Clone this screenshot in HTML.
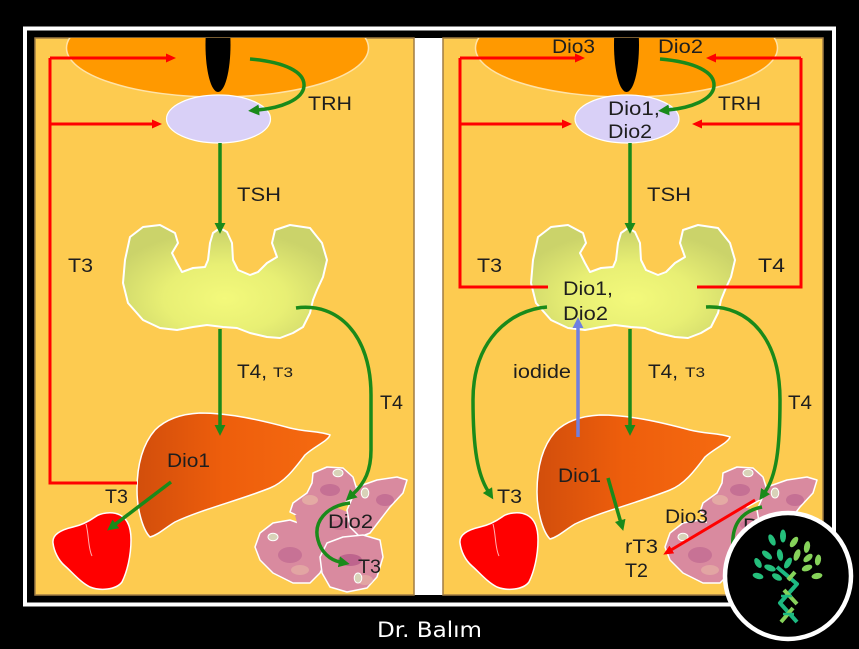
<!DOCTYPE html>
<html><head><meta charset="utf-8">
<style>html,body{margin:0;padding:0;background:#000;}svg{display:block}</style>
</head>
<body>
<svg width="859" height="649" viewBox="0 0 859 649" xmlns="http://www.w3.org/2000/svg" font-family="'Liberation Sans', Arial, sans-serif">
<defs>
  <marker id="ga" viewBox="0 0 10 10" refX="1" refY="5" markerWidth="11" markerHeight="11" markerUnits="userSpaceOnUse" orient="auto"><path d="M0,0 L10,5 L0,10 Z" fill="#1a8a1a"/></marker>
  <marker id="ra" viewBox="0 0 10 9" refX="1" refY="4.5" markerWidth="10" markerHeight="9" markerUnits="userSpaceOnUse" orient="auto"><path d="M0,0 L10,4.5 L0,9 Z" fill="#ff0000"/></marker>
  <marker id="ba" viewBox="0 0 10 10" refX="1" refY="5" markerWidth="11" markerHeight="11" markerUnits="userSpaceOnUse" orient="auto"><path d="M0,0 L10,5 L0,10 Z" fill="#6f7fe0"/></marker>
  <clipPath id="cl"><rect x="35" y="38" width="379" height="557"/></clipPath>
  <clipPath id="cr"><rect x="443" y="38" width="380" height="557"/></clipPath>
  <radialGradient id="thy" cx="0.5" cy="0.65" r="0.6">
    <stop offset="0" stop-color="#F3F97B"/>
    <stop offset="0.5" stop-color="#E8EF74"/>
    <stop offset="1" stop-color="#CBD36A"/>
  </radialGradient>
  <linearGradient id="liv" x1="0" y1="0" x2="1" y2="0">
    <stop offset="0" stop-color="#D24E0C"/>
    <stop offset="0.45" stop-color="#EE5E0C"/>
    <stop offset="1" stop-color="#F56A10"/>
  </linearGradient>
  <clipPath id="tc">
    <path d="M260,533 L273,523 L290,520 L310,527 L323,537 L330,553 L320,573 L310,583 L293,583 L273,573 L260,560 L255,547 Z"/>
    <path d="M313,473 L327,467 L343,468 L353,477 L357,490 L350,500 L337,507 L320,513 L300,517 L290,512 L293,503 L307,493 L312,483 Z"/>
    <path d="M295,515 L330,505 L355,515 L365,535 L345,545 L320,545 L300,535 Z"/>
    <path d="M357,487 L377,480 L397,477 L407,480 L403,493 L390,507 L380,520 L370,533 L360,537 L350,527 L347,510 Z"/>
    <path d="M327,543 L343,537 L363,535 L380,540 L383,557 L377,577 L367,588 L347,592 L330,587 L322,573 L320,557 Z"/>
  </clipPath>

  <g id="thyroid">
    <path d="M130,237 L143,227 L160,225 L175,233 L178,243 L172,253 L177,263 L182,272 L193,268 L205,267 L208,260 L210,243 L213,233 L220,228 L227,232 L232,243 L233,260 L238,270 L250,275 L258,272 L267,263 L277,257 L272,243 L275,230 L290,225 L310,228 L322,243 L327,260 L323,277 L317,290 L313,300 L310,313 L303,327 L293,333 L280,338 L267,337 L250,333 L237,328 L223,327 L207,325 L193,327 L177,330 L160,328 L143,320 L128,303 L123,283 L125,260 Z" fill="url(#thy)" stroke="#fff" stroke-width="2" stroke-linejoin="round"/>
  </g>
  <g id="liver">
    <path d="M150,537 C143,530 137,510 137,490 C137,465 142,445 155,430 C165,420 180,414 200,413 C230,413 260,420 290,428 C305,432 320,431 330,435 C328,441 315,446 305,455 C295,468 285,482 270,488 C240,500 200,510 175,522 C165,528 158,535 150,537 Z" fill="url(#liv)" stroke="#fff" stroke-width="1.5"/>
  </g>
  <g id="heart">
    <path d="M53,543 C52,535 60,530 73,527 C82,525 88,522 95,517 C100,513 112,511 120,515 C128,519 131,528 131,540 C131,556 127,572 122,582 C116,590 100,591 90,587 C80,582 72,572 65,566 C58,560 54,551 53,543 Z" fill="#ff0000" stroke="#fff" stroke-width="1.5"/>
    <path d="M86,524 C89,535 88,548 92,556" fill="none" stroke="#ffb0b0" stroke-width="1"/>
  </g>
  <g id="tissue">
    <g stroke="#fff" stroke-width="1.5" stroke-linejoin="round" fill="#D98A9F">
      <path d="M260,533 L273,523 L290,520 L310,527 L323,537 L330,553 L320,573 L310,583 L293,583 L273,573 L260,560 L255,547 Z"/>
      <path d="M313,473 L327,467 L343,468 L353,477 L357,490 L350,500 L337,507 L320,513 L300,517 L290,512 L293,503 L307,493 L312,483 Z"/>
      <path d="M295,515 L330,505 L355,515 L365,535 L345,545 L320,545 L300,535 Z" stroke="none"/>
      <path d="M357,487 L377,480 L397,477 L407,480 L403,493 L390,507 L380,520 L370,533 L360,537 L350,527 L347,510 Z"/>
      <path d="M327,543 L343,537 L363,535 L380,540 L383,557 L377,577 L367,588 L347,592 L330,587 L322,573 L320,557 Z"/>
    </g>
    <g clip-path="url(#tc)">
      <ellipse cx="330" cy="490" rx="10" ry="6" fill="#B2558A" opacity="0.5"/>
      <ellipse cx="385" cy="500" rx="9" ry="6" fill="#B2558A" opacity="0.5"/>
      <ellipse cx="290" cy="555" rx="12" ry="8" fill="#B2558A" opacity="0.45"/>
      <ellipse cx="350" cy="560" rx="12" ry="6" fill="#A8457E" opacity="0.55"/>
      <ellipse cx="310" cy="500" rx="8" ry="5" fill="#EBC0A8" opacity="0.6"/>
      <ellipse cx="300" cy="570" rx="9" ry="5" fill="#EBC0A8" opacity="0.5"/>
      <ellipse cx="365" cy="580" rx="8" ry="5" fill="#EBC0A8" opacity="0.5"/>
      <ellipse cx="340" cy="525" rx="10" ry="5" fill="#C0608C" opacity="0.45"/>
    </g>
    <g fill="#D8D2B8" stroke="#fff" stroke-width="1">
      <ellipse cx="338" cy="473" rx="5" ry="3.8"/>
      <ellipse cx="365" cy="493" rx="3.8" ry="5"/>
      <ellipse cx="273" cy="537" rx="5" ry="3.8"/>
      <ellipse cx="358" cy="578" rx="3.8" ry="5"/>
    </g>
  </g>
</defs>

<rect width="859" height="649" fill="#000"/>
<rect x="25" y="28.5" width="809" height="576" fill="none" stroke="#fff" stroke-width="4"/>
<rect x="414" y="38" width="29" height="557" fill="#fff"/>

<!-- LEFT PANEL -->
<rect x="35" y="38" width="379" height="557" fill="#FDCB50" stroke="#A07C44" stroke-width="1.5"/>
<g clip-path="url(#cl)">
  <ellipse cx="217.5" cy="48" rx="151" ry="49" fill="#FF9900" stroke="#FFE3A8" stroke-width="1.5"/>
  <ellipse cx="218" cy="45" rx="12.5" ry="47" fill="#000"/>
  <ellipse cx="218.5" cy="119" rx="52" ry="24" fill="#D9D0F7" stroke="#fff" stroke-width="1.2"/>
  <use href="#thyroid"/>
  <use href="#liver"/>
  <use href="#heart"/>
  <use href="#tissue"/>

  <g fill="none" stroke="#ff0000" stroke-width="3">
    <path d="M50,58 L50,483 L137,483"/>
    <path d="M50,58 L167,58" marker-end="url(#ra)"/>
    <path d="M50,124 L153,124" marker-end="url(#ra)"/>
  </g>
  <g fill="none" stroke="#1a8a1a" stroke-width="3.5">
    <path d="M250,59 C285,62 305,72 304,86 C303,100 280,108 258,110" marker-end="url(#ga)"/>
    <path d="M220,143 L220,224" marker-end="url(#ga)"/>
    <path d="M220,329 L220,426" marker-end="url(#ga)"/>
    <path d="M296,308 C338,302 371,335 371,395 L371,450 C371,470 365,483 353,494" marker-end="url(#ga)"/>
    <path d="M350,503 C326,506 313,522 318,540 C321,552 330,560 340,562" marker-end="url(#ga)"/>
    <path d="M171,482 L115,524.5" marker-end="url(#ga)"/>
  </g>
  <g fill="#1e1e1e" font-size="19">
    <text x="308" y="110" textLength="44" lengthAdjust="spacingAndGlyphs">TRH</text>
    <text x="237" y="201" textLength="44" lengthAdjust="spacingAndGlyphs">TSH</text>
    <text x="68" y="272" textLength="25" lengthAdjust="spacingAndGlyphs">T3</text>
    <text x="237" y="378" textLength="30" lengthAdjust="spacingAndGlyphs">T4,</text>
    <text x="273" y="377" font-size="14" textLength="20" lengthAdjust="spacingAndGlyphs">T3</text>
    <text x="380" y="409" textLength="23" lengthAdjust="spacingAndGlyphs">T4</text>
    <text x="167" y="467" textLength="43" lengthAdjust="spacingAndGlyphs">Dio1</text>
    <text x="105" y="503" textLength="23" lengthAdjust="spacingAndGlyphs">T3</text>
    <text x="328" y="528" textLength="45" lengthAdjust="spacingAndGlyphs">Dio2</text>
    <text x="358" y="573" textLength="23" lengthAdjust="spacingAndGlyphs">T3</text>
  </g>
</g>

<!-- RIGHT PANEL -->
<rect x="443" y="38" width="380" height="557" fill="#FDCB50" stroke="#A07C44" stroke-width="1.5"/>
<g clip-path="url(#cr)">
  <ellipse cx="626.5" cy="48" rx="151" ry="49" fill="#FF9900" stroke="#FFE3A8" stroke-width="1.5"/>
  <ellipse cx="626.5" cy="45" rx="12.5" ry="47" fill="#000"/>
  <ellipse cx="627" cy="119" rx="52" ry="24" fill="#D9D0F7" stroke="#fff" stroke-width="1.2"/>
  <use href="#thyroid" transform="translate(408,0)"/>
  <use href="#liver" transform="translate(400,2)"/>
  <use href="#heart" transform="translate(407,0)"/>
  <use href="#tissue" transform="translate(410,0)"/>

  <g fill="none" stroke="#ff0000" stroke-width="3">
    <path d="M460,58 L460,287 L548,287"/>
    <path d="M460,58 L576,58" marker-end="url(#ra)"/>
    <path d="M460,124 L563,124" marker-end="url(#ra)"/>
    <path d="M801,58 L801,287 L697,287"/>
    <path d="M801,58 L715,58" marker-end="url(#ra)"/>
    <path d="M801,124 L701,124" marker-end="url(#ra)"/>
    <path d="M755,500 L671,550" marker-end="url(#ra)"/>
  </g>
  <g fill="none" stroke="#1a8a1a" stroke-width="3.5">
    <path d="M660,59 C695,62 715,72 714,86 C713,100 690,108 668,110" marker-end="url(#ga)"/>
    <path d="M630,143 L630,224" marker-end="url(#ga)"/>
    <path d="M630,329 L630,426" marker-end="url(#ga)"/>
    <path d="M547,307 C510,310 473,340 473,400 C473,450 478,475 488,491" marker-end="url(#ga)"/>
    <path d="M706,307 C750,305 780,340 780,400 C780,450 776,476 765,492" marker-end="url(#ga)"/>
    <path d="M762,507 C742,511 731,524 733,548"/>
    <path d="M608,478 L620.5,521.4" marker-end="url(#ga)"/>
  </g>
  <path d="M578,437 L578,327" fill="none" stroke="#6f7fe0" stroke-width="3.5" marker-end="url(#ba)"/>
  <g fill="#1e1e1e" font-size="19">
    <text x="552" y="53" textLength="43" lengthAdjust="spacingAndGlyphs">Dio3</text>
    <text x="658" y="53" textLength="45" lengthAdjust="spacingAndGlyphs">Dio2</text>
    <text x="608" y="115" textLength="52" lengthAdjust="spacingAndGlyphs">Dio1,</text>
    <text x="608" y="138" textLength="44" lengthAdjust="spacingAndGlyphs">Dio2</text>
    <text x="718" y="110" textLength="43" lengthAdjust="spacingAndGlyphs">TRH</text>
    <text x="647" y="201" textLength="44" lengthAdjust="spacingAndGlyphs">TSH</text>
    <text x="477" y="272" textLength="25" lengthAdjust="spacingAndGlyphs">T3</text>
    <text x="758" y="272" textLength="27" lengthAdjust="spacingAndGlyphs">T4</text>
    <text x="563" y="295" textLength="50" lengthAdjust="spacingAndGlyphs">Dio1,</text>
    <text x="563" y="320" textLength="45" lengthAdjust="spacingAndGlyphs">Dio2</text>
    <text x="513" y="378" textLength="58" lengthAdjust="spacingAndGlyphs">iodide</text>
    <text x="648" y="378" textLength="30" lengthAdjust="spacingAndGlyphs">T4,</text>
    <text x="685" y="377" font-size="14" textLength="20" lengthAdjust="spacingAndGlyphs">T3</text>
    <text x="788" y="409" textLength="24" lengthAdjust="spacingAndGlyphs">T4</text>
    <text x="558" y="482" textLength="43" lengthAdjust="spacingAndGlyphs">Dio1</text>
    <text x="497" y="503" textLength="25" lengthAdjust="spacingAndGlyphs">T3</text>
    <text x="665" y="523" textLength="43" lengthAdjust="spacingAndGlyphs">Dio3</text>
    <text x="625" y="553" textLength="33" lengthAdjust="spacingAndGlyphs">rT3</text>
    <text x="625" y="577" textLength="23" lengthAdjust="spacingAndGlyphs">T2</text>
    <text x="743" y="532" textLength="45" lengthAdjust="spacingAndGlyphs">Dio2</text>
  </g>
</g>

<!-- Caption -->
<text x="377" y="637" font-family="'DejaVu Sans', sans-serif" font-size="21" fill="#fff" textLength="105" lengthAdjust="spacingAndGlyphs">Dr. Balım</text>

<!-- Logo -->
<circle cx="788" cy="576" r="63" fill="#000" stroke="#fff" stroke-width="4.5"/>
<g>
  <g fill="#25BF7C">
    <ellipse rx="3" ry="6.5" transform="translate(783,536) rotate(0)"/>
    <ellipse rx="3" ry="6" transform="translate(772,540) rotate(-25)"/>
    <ellipse rx="3" ry="6" transform="translate(767,555) rotate(-50)"/>
    <ellipse rx="3" ry="6" transform="translate(780,555) rotate(-10)"/>
    <ellipse rx="3" ry="5.5" transform="translate(758,563) rotate(-30)"/>
    <ellipse rx="3" ry="6" transform="translate(770,568) rotate(-70)"/>
    <ellipse rx="3" ry="5.5" transform="translate(758,576) rotate(-75)"/>
    <ellipse rx="3" ry="6" transform="translate(788,563) rotate(30)"/>
    <ellipse rx="3" ry="5.5" transform="translate(777,577) rotate(-60)"/>
  </g>
  <g fill="#86D25A">
    <ellipse rx="3" ry="6" transform="translate(794,542) rotate(35)"/>
    <ellipse rx="3" ry="6" transform="translate(807,547) rotate(10)"/>
    <ellipse rx="3" ry="6" transform="translate(797,555) rotate(20)"/>
    <ellipse rx="3" ry="5.5" transform="translate(808,558) rotate(50)"/>
    <ellipse rx="3" ry="5.5" transform="translate(818,560) rotate(10)"/>
    <ellipse rx="3" ry="5.5" transform="translate(807,568) rotate(70)"/>
    <ellipse rx="3" ry="5.5" transform="translate(817,576) rotate(80)"/>
  </g>
  <path d="M777,567 L797,584 L780,603 L797,622" fill="none" stroke="#1DB982" stroke-width="4" stroke-linejoin="round"/>
  <path d="M795,572 L788,580 M784,590 L797,604 M793,608 L781,622" fill="none" stroke="#86D25A" stroke-width="4"/>
  <path d="M781,596 L792,596 M783,614 L794,614" stroke="#1DB982" stroke-width="2.5"/>
</g>
</svg>
</body></html>
